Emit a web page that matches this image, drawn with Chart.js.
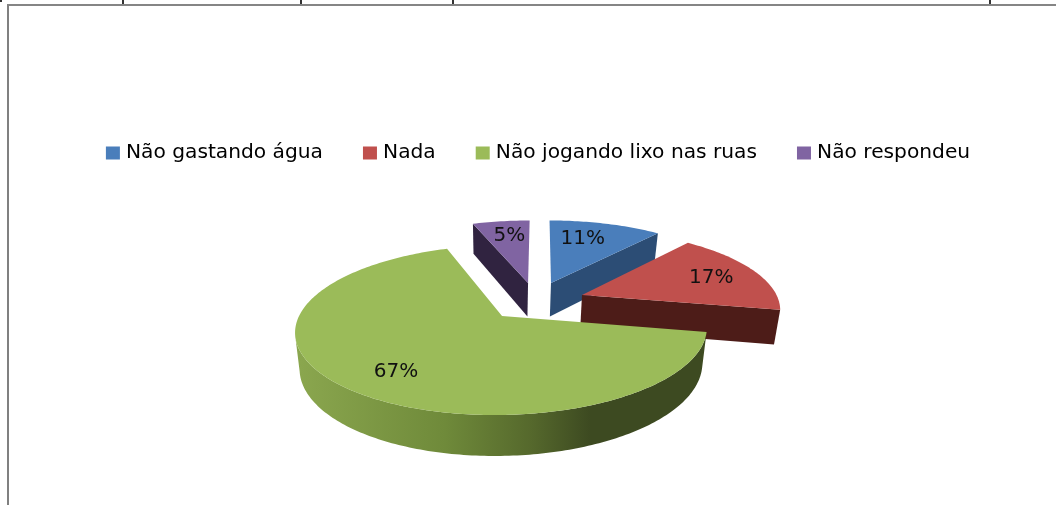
<!DOCTYPE html>
<html><head><meta charset="utf-8">
<style>
html,body{margin:0;padding:0;background:#fff;width:1056px;height:505px;overflow:hidden}
#frame{position:absolute;left:7px;top:4px;width:1100px;height:600px;border-top:2px solid #858585;border-left:2px solid #808080}
canvas{position:absolute;left:0;top:0;filter:blur(0.4px)}
.stub{position:absolute;top:0;width:2px;height:4px;background:#333}
</style>
<script src="https://cdn.jsdelivr.net/npm/chart.js@4"></script>
</head><body>
<div id="frame"></div>
<div class="stub" style="left:0;height:2px"></div>
<div class="stub" style="left:122px"></div>
<div class="stub" style="left:300px"></div>
<div class="stub" style="left:452px"></div>
<div class="stub" style="left:989px"></div>
<canvas id="c" width="1056" height="505"></canvas>
<script>
const categories = ["Não gastando água", "Nada", "Não jogando lixo nas ruas", "Não respondeu"];
const shares = [11, 17, 67, 5];
const topColors = ["#4a7ebb", "#c0504d", "#9bbb59", "#8064a2"];
const wallColors = ["#2c4d75", "#4d1c18", null, "#302340"];
const explodeX = [0.058, 0.216, -0.187, -0.063];
const explodeY = [-0.427, -0.265, 0, -0.427];
const labelRadius = [0.716, 0.744, 0.751, 0.75];
const labelTurn = [-4.3, 0, -4.4, 0];
const paintOrder = [3, 0, 1, 2];
const FONT = '"DejaVu Sans"';

const view = {vx:540, vy:316, a:203, b:82.7, k:0.165};
function project(X, Y){ const w = 1 - view.k*Y; return [view.vx + view.a*X/w, view.vy + view.b*Y/w]; }
function lower(p){ return [p[0] - (p[0]-500)*0.022, p[1] + 30 + (p[1]-223)*0.057]; }
// the original's perspective pulls the back-left quadrant slightly further round
function warp(t){
  const d = t*180/Math.PI;
  if(d>270 && d<360) return t - 3.4*Math.PI/180*Math.sin(2*(t-1.5*Math.PI));
  return t;
}
function facingFront(p,q){ return (q[0]-p[0])/Math.max(1e-6,Math.hypot(q[0]-p[0],q[1]-p[1])) < -0.05; }

const pie3d = {
  id:'pie3d',
  beforeDatasetDraw(){ return false; },
  afterDatasetsDraw(chart){
    const ctx = chart.ctx, arcs = chart.getDatasetMeta(0).data;
    const grad = ctx.createLinearGradient(300,0,590,0);
    grad.addColorStop(0,'#8aa64e'); grad.addColorStop(0.5,'#6f8a3a');
    grad.addColorStop(0.8,'#55682c'); grad.addColorStop(1,'#3d4a21');
    paintOrder.forEach(i=>{
      const el = arcs[i];
      const a0 = el.startAngle + Math.PI/2, a1 = el.endAngle + Math.PI/2;
      const ox = explodeX[i], oy = explodeY[i];
      const rim = [], n = Math.ceil((a1-a0)/(Math.PI/180));
      for(let j=0;j<=n;j++){ const t=warp(a0+(a1-a0)*j/n); rim.push(project(ox+Math.sin(t), oy-Math.cos(t))); }
      const apex = project(ox,oy);
      const outline = [apex,...rim,apex];
      ctx.save();
      ctx.fillStyle = wallColors[i] || grad;
      let run = [];
      const flush = ()=>{
        if(run.length>1){
          ctx.beginPath();
          run.forEach((p,j)=> j?ctx.lineTo(p[0],p[1]):ctx.moveTo(p[0],p[1]));
          run.slice().reverse().forEach(p=>{const l=lower(p); ctx.lineTo(l[0],l[1]);});
          ctx.closePath(); ctx.fill();
        }
        run = [];
      };
      for(let j=0;j<outline.length-1;j++){
        const p=outline[j], q=outline[j+1];
        if(facingFront(p,q)){ if(!run.length) run.push(p); run.push(q); }
        else flush();
      }
      flush();
      ctx.fillStyle = el.options.backgroundColor;
      ctx.beginPath(); outline.forEach((p,j)=> j?ctx.lineTo(p[0],p[1]):ctx.moveTo(p[0],p[1])); ctx.closePath(); ctx.fill();
      ctx.restore();
    });
    ctx.save();
    ctx.fillStyle='#111'; ctx.font='20px '+FONT; ctx.textAlign='center'; ctx.textBaseline='middle';
    arcs.forEach((el,i)=>{
      const m=(el.startAngle+el.endAngle)/2+Math.PI/2+labelTurn[i]*Math.PI/180;
      const p=project(explodeX[i]+labelRadius[i]*Math.sin(m), explodeY[i]-labelRadius[i]*Math.cos(m));
      ctx.fillText(shares[i]+'%',p[0],p[1]+1);
    });
    ctx.restore();
  }
};

new Chart(document.getElementById('c'),{
  type:'pie',
  data:{labels:categories,datasets:[{data:shares,backgroundColor:topColors,borderWidth:0}]},
  plugins:[pie3d],
  options:{
    responsive:false,animation:false,
    layout:{padding:{left:24,top:99}},
    plugins:{
      tooltip:{enabled:false},
      legend:{
        position:'top',align:'center',
        labels:{
          boxWidth:6,boxHeight:5,padding:44,color:'#222',font:{family:FONT,size:20.2},
          generateLabels(chart){
            return categories.map((t,i)=>({text:t,fillStyle:topColors[i],strokeStyle:topColors[i],lineWidth:8,hidden:false,index:i}));
          }
        }
      }
    }
  }
});
</script>
</body></html>
